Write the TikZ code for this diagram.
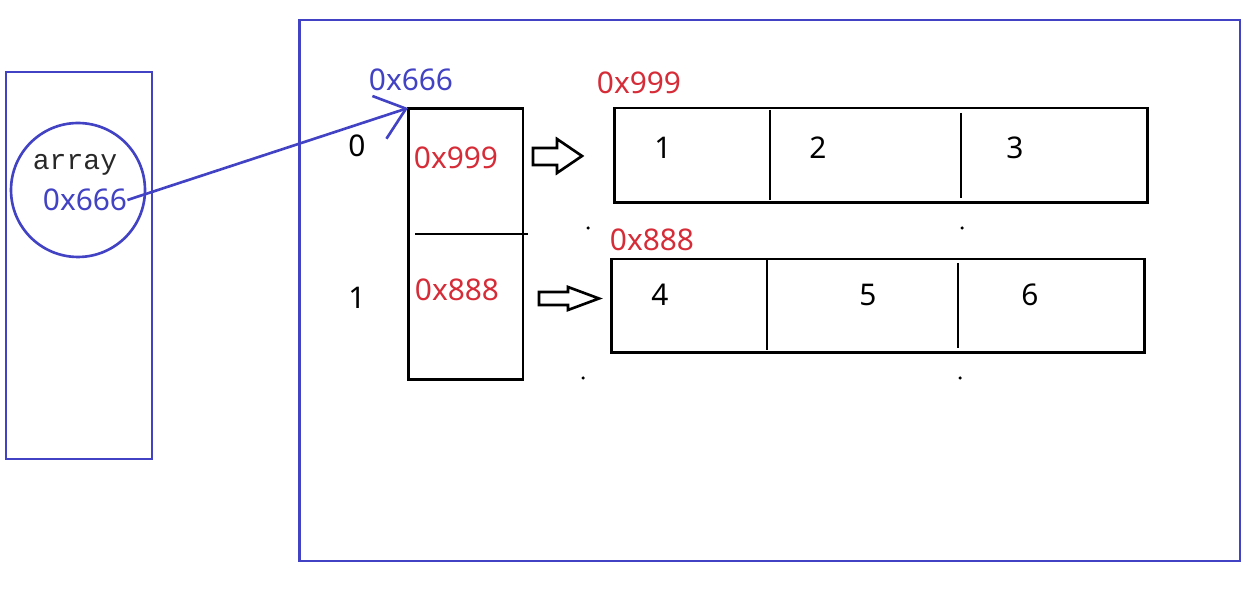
\documentclass[tikz,border=0pt]{standalone}
\usepackage{fontspec}
\setmainfont{Noto Sans}
\newfontfamily\monofont{Liberation Mono}
\usepackage{xcolor}
\usetikzlibrary{
  arrows.meta
}
\definecolor{ptrblue}{RGB}{66,66,196}
\definecolor{addrred}{RGB}{214,44,56}
\definecolor{inkgray}{RGB}{40,40,40}
\tikzset{
  memtext/.style={inner sep=0pt,font=\fontsize{17}{20}\selectfont},
  addrtext/.style={memtext,text=addrred},
  bluetext/.style={memtext,text=ptrblue},
  areabox/.style={
    draw=ptrblue,
    line width=1.6pt,
    inner sep=0pt,
    outer sep=0pt
  },
  cellbox/.style={
    draw=black,
    line width=1.7pt,
    inner sep=0pt,
    outer sep=0pt
  },
  divider/.style={draw=black,line width=1.5pt},
  hollowarrow/.style={draw=black,line width=1.5pt,line join=miter},
  refarrow/.style={-{Straight Barb[length=5.6mm,width=9mm]},line width=1.5pt,draw=ptrblue}
}
\begin{document}
\begin{tikzpicture}[x=0.02cm,y=-0.02cm]
  \useasboundingbox (0,0) rectangle (1257,590);
  % stack and heap
  \node[areabox,minimum width=2.92cm,minimum height=7.74cm] (stack) at (79,265.5) {};
  \node[areabox,minimum width=18.82cm,minimum height=10.82cm] (heap) at (769.5,290.5) {};
  \node[circle,draw=ptrblue,line width=1.5pt,minimum size=2.68cm,inner sep=0pt] (var) at (78,190) {};
  \node[inner sep=0pt,anchor=base,text=inkgray,font=\monofont\fontsize{16}{18}\selectfont] (varname) at (75,170) {array};
  \node[bluetext] (varval) at (85,200) {0x666};

  % outer array
  \node[cellbox,minimum width=2.3cm,minimum height=5.44cm] (outer) at (465.5,244) {};
  \draw[divider] (415,234) -- (528,234);
  \node[bluetext] (outeraddr) at (411,80) {0x666};
  \node[memtext] (idx0) at (357,146) {0};
  \node[memtext] (idx1) at (357,298) {1};
  \node[addrtext] (slot0) at (456,158) {0x999};
  \node[addrtext] (slot1) at (457,290) {0x888};

  % rows
  \node[cellbox,minimum width=10.68cm,minimum height=1.9cm] (row0) at (881,155.5) {};
  \node[cellbox,minimum width=10.68cm,minimum height=1.88cm] (row1) at (878,306) {};
  \draw[divider] (770,110) -- (770,200) (961,113) -- (961,198);
  \draw[divider] (767,260) -- (767,350) (958,263) -- (958,348);
  \node[addrtext] (row0addr) at (639,83) {0x999};
  \node[addrtext] (row1addr) at (652,240) {0x888};
  \node[memtext] (v1) at (663,148) {1};
  \node[memtext] (v2) at (818,148) {2};
  \node[memtext] (v3) at (1015,148) {3};
  \node[memtext] (v4) at (660,295) {4};
  \node[memtext] (v5) at (868,295) {5};
  \node[memtext] (v6) at (1030,295) {6};

  % hollow arrows
  \draw[hollowarrow] (533,148) -- (557,148) -- (557,139) -- (582,156)
    -- (557,173) -- (557,165) -- (533,165) -- cycle;
  \draw[hollowarrow] (539,292) -- (568,292) -- (568,287) -- (599,298.5)
    -- (568,310) -- (568,305) -- (539,305) -- cycle;

  % stray marks
  \foreach \p in {(588,228),(962,228),(583,378),(960,378)}
    \fill[black] \p circle[radius=0.035cm];

  \draw[refarrow] (varval.east) -- (outer.north west);
\end{tikzpicture}
\end{document}
